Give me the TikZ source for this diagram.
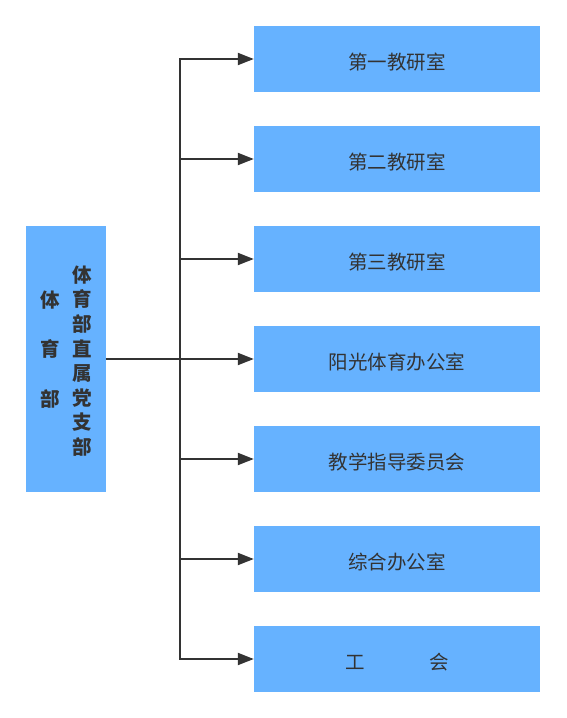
\documentclass[tikz,border=0pt]{standalone}
\usepackage{fontspec}
\usepackage{xcolor}
\usetikzlibrary{arrows.meta,positioning}
\newfontfamily\cjk{Noto Sans CJK SC}
\definecolor{orgBlue}{HTML}{66B2FF}
\definecolor{orgText}{HTML}{333333}
\definecolor{orgLine}{HTML}{333333}

\begin{document}
\begin{tikzpicture}[
    x=1pt, y=-1pt,
    unit/.style={fill=orgBlue, draw=none, minimum width=286pt, minimum height=66pt, inner sep=0pt, text height=23pt, text depth=2.3pt, text=orgText, font=\cjk\fontsize{19.5pt}{24pt}\selectfont},
    rootbox/.style={fill=orgBlue, draw=none, minimum width=80pt, minimum height=266pt, inner sep=0pt},
    roottext/.style={text=orgText, align=center, inner sep=0pt, font=\cjk\bfseries\fontsize{19.5pt}{24.6pt}\selectfont},
    conn/.style={draw=orgLine, line width=2pt, -{Triangle[length=16pt, width=12pt]}}
]
\useasboundingbox (0,0) rectangle (566,718);

% ===== ROOT =====
\node[rootbox] (root) at (65.5, 358.5) {};
\node[roottext, font=\cjk\bfseries\fontsize{19.5pt}{49.5pt}\selectfont] (rootA) at (50, 349.5) {体\\育\\部};
\node[roottext] (rootB) at (82, 361) {体\\育\\部\\直\\属\\党\\支\\部};

% ===== UNITS =====
\node[unit] (U1) at (397, 59) {第一教研室};
\node[unit] (U2) at (397, 159) {第二教研室};
\node[unit] (U3) at (397, 259) {第三教研室};
\node[unit] (U4) at (397, 359) {阳光体育办公室};
\node[unit] (U5) at (397, 459) {教学指导委员会};
\node[unit] (U6) at (397, 559) {综合办公室};
\node[unit] (U7) at (397, 659) {工\hspace{3.3em}会};

% ===== CONNECTORS =====
\coordinate (trunk) at (180, 358.5);
\draw[draw=orgLine, line width=2pt] (root.east) -- (trunk);
\draw[conn] (trunk) |- (U1.west);
\draw[conn] (trunk) |- (U2.west);
\draw[conn] (trunk) |- (U3.west);
\draw[conn] (trunk) |- (U4.west);
\draw[conn] (trunk) |- (U5.west);
\draw[conn] (trunk) |- (U6.west);
\draw[conn] (trunk) |- (U7.west);

\end{tikzpicture}
\end{document}
